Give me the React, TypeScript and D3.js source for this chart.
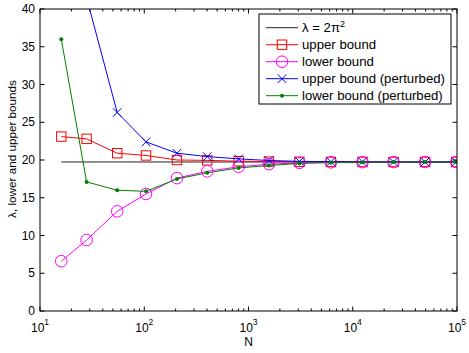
import React, { useRef, useEffect } from 'react';
import * as d3 from 'd3';

// grid sizes and the eigenvalue bounds computed on each
const N_VALUES = [16, 28, 55, 104, 206, 402, 805, 1570, 3080, 6170, 12400, 24600, 49400, 98300];
const UPPER = [23.1, 22.8, 20.9, 20.6, 20.0, 19.95, 19.84, 19.79, 19.76, 19.75, 19.74, 19.74, 19.74, 19.74];
const LOWER = [6.6, 9.4, 13.2, 15.5, 17.6, 18.5, 19.1, 19.45, 19.62, 19.69, 19.72, 19.73, 19.74, 19.74];
const UPPER_PERT = [58, 41.5, 26.3, 22.4, 20.9, 20.45, 20.15, 19.93, 19.82, 19.77, 19.75, 19.74, 19.74, 19.74];
const LOWER_PERT = [36.0, 17.1, 16.0, 15.85, 17.5, 18.3, 18.95, 19.27, 19.55, 19.65, 19.7, 19.72, 19.73, 19.74];
const LAMBDA_EXACT = 19.7392; // 2*pi^2

const X_TICKS = [10, 100, 1000, 10000, 100000];
const X_TICK_EXP = ['1', '2', '3', '4', '5'];
const Y_TICKS = [0, 5, 10, 15, 20, 25, 30, 35, 40];

const LEGEND_LABELS = ['upper bound', 'lower bound', 'upper bound (perturbed)', 'lower bound (perturbed)'];

const W = 469;
const H = 353;
const left = 40;
const right = 457;
const top = 9;
const bottom = 311;
const FONT = 'Liberation Sans, Arial, Helvetica, sans-serif';

type Marker = 'square' | 'circle' | 'x' | 'dot';

function drawMarker(g: d3.Selection<SVGGElement, unknown, null, undefined>, kind: Marker, x: number, y: number, color: string) {
  if (kind === 'square') {
    g.append('rect').attr('x', x - 4.7).attr('y', y - 4.7).attr('width', 9.4).attr('height', 9.4)
      .attr('fill', 'none').attr('stroke', color).attr('stroke-width', 1);
  } else if (kind === 'circle') {
    g.append('circle').attr('cx', x).attr('cy', y).attr('r', 5.8)
      .attr('fill', 'none').attr('stroke', color).attr('stroke-width', 1);
  } else if (kind === 'x') {
    const s = 4.3;
    g.append('path').attr('d', `M${x - s},${y - s}L${x + s},${y + s}M${x - s},${y + s}L${x + s},${y - s}`)
      .attr('stroke', color).attr('stroke-width', 1).attr('fill', 'none');
  } else {
    g.append('circle').attr('cx', x).attr('cy', y).attr('r', 2).attr('fill', color);
  }
}

const App: React.FC = () => {
  const svgRef = useRef<SVGSVGElement | null>(null);

  useEffect(() => {
    const svg = d3.select(svgRef.current);
    svg.selectAll('*').remove();

    const x = d3.scaleLog().domain([10, 100000]).range([left, right]);
    const y = d3.scaleLinear().domain([0, 40]).range([bottom, top]);

    svg.append('defs').append('clipPath').attr('id', 'plot-clip')
      .append('rect').attr('x', left).attr('y', top).attr('width', right - left).attr('height', bottom - top);

    const plot = svg.append('g').attr('clip-path', 'url(#plot-clip)');

    // exact eigenvalue
    plot.append('line')
      .attr('x1', x(N_VALUES[0])).attr('x2', x(N_VALUES[N_VALUES.length - 1]))
      .attr('y1', y(LAMBDA_EXACT)).attr('y2', y(LAMBDA_EXACT))
      .attr('stroke', '#222').attr('stroke-width', 1);

    const series: { values: number[]; color: string; marker: Marker }[] = [
      { values: UPPER, color: '#ff0000', marker: 'square' },
      { values: LOWER, color: '#ff00ff', marker: 'circle' },
      { values: UPPER_PERT, color: '#0000ff', marker: 'x' },
      { values: LOWER_PERT, color: '#008000', marker: 'dot' },
    ];

    const line = d3.line<number>()
      .x((_, i) => x(N_VALUES[i]))
      .y((d) => y(d));

    series.forEach((s) => {
      plot.append('path').attr('d', line(s.values)).attr('fill', 'none')
        .attr('stroke', s.color).attr('stroke-width', 1);
      s.values.forEach((v, i) => drawMarker(plot, s.marker, x(N_VALUES[i]), y(v), s.color));
    });

    // axes box
    const axes = svg.append('g').attr('stroke', '#000').attr('stroke-width', 1);
    axes.append('rect').attr('x', left).attr('y', top).attr('width', right - left).attr('height', bottom - top)
      .attr('fill', 'none');

    // log ticks, inward, top and bottom
    for (let e = 1; e <= 5; e++) {
      for (let k = 1; k <= 9; k++) {
        const v = k * Math.pow(10, e);
        if (v > 100000) break;
        const px = x(v);
        const len = k === 1 ? 4.5 : 2.5;
        axes.append('line').attr('x1', px).attr('x2', px).attr('y1', bottom).attr('y2', bottom - len);
        axes.append('line').attr('x1', px).attr('x2', px).attr('y1', top).attr('y2', top + len);
      }
    }

    Y_TICKS.forEach((t) => {
      axes.append('line').attr('x1', left).attr('x2', left + 4.5).attr('y1', y(t)).attr('y2', y(t));
      axes.append('line').attr('x1', right).attr('x2', right - 4.5).attr('y1', y(t)).attr('y2', y(t));
      svg.append('text').attr('x', 35).attr('y', y(t) + 4.2).attr('text-anchor', 'end')
        .attr('font-family', FONT).attr('font-size', 12).text(t);
    });

    X_TICKS.forEach((t, i) => {
      const txt = svg.append('text').attr('x', x(t)).attr('y', 331.5).attr('text-anchor', 'middle')
        .attr('font-family', FONT).attr('font-size', 12);
      txt.append('tspan').text('10');
      txt.append('tspan').attr('dy', -6.5).attr('font-size', 8.5).text(X_TICK_EXP[i]);
    });

    svg.append('text').attr('x', 248.5).attr('y', 346).attr('text-anchor', 'middle')
      .attr('font-family', FONT).attr('font-size', 12).text('N');

    svg.append('text').attr('transform', 'translate(16,149) rotate(-90)').attr('text-anchor', 'middle')
      .attr('font-family', FONT).attr('font-size', 11.7).text('λ, lower and upper bounds');

    // legend
    const lg = svg.append('g');
    lg.append('rect').attr('x', 259).attr('y', 14).attr('width', 192).attr('height', 90)
      .attr('fill', '#fff').attr('stroke', '#000').attr('stroke-width', 1);
    const rowY = (i: number) => 27.7 + i * 17;
    lg.append('line').attr('x1', 266).attr('x2', 298).attr('y1', rowY(0)).attr('y2', rowY(0))
      .attr('stroke', '#222').attr('stroke-width', 1);
    const lt = lg.append('text').attr('x', 302).attr('y', rowY(0) + 4.6)
      .attr('font-family', FONT).attr('font-size', 13.2);
    lt.append('tspan').text('λ = 2π');
    lt.append('tspan').attr('dy', -5.5).attr('font-size', 9).text('2');

    series.forEach((s, i) => {
      const yy = rowY(i + 1);
      lg.append('line').attr('x1', 266).attr('x2', 298).attr('y1', yy).attr('y2', yy)
        .attr('stroke', s.color).attr('stroke-width', 1);
      drawMarker(lg, s.marker, 282, yy, s.color);
      lg.append('text').attr('x', 302).attr('y', yy + 4.6)
        .attr('font-family', FONT).attr('font-size', 13.2).text(LEGEND_LABELS[i]);
    });
  }, []);

  return (
    <div style={{ position: 'fixed', left: 0, top: 0, width: W, height: H, background: '#fff' }}>
      <svg ref={svgRef} width={W} height={H} />
    </div>
  );
};

export default App;
